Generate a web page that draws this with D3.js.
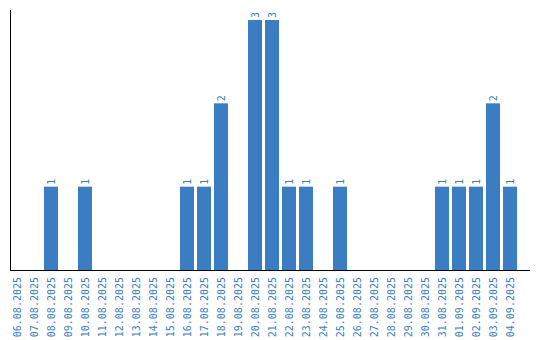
<!DOCTYPE html>
<html>
<head>
<meta charset="utf-8">
<script src="https://cdn.jsdelivr.net/npm/d3@7"></script>
<style>
  body { margin: 0; background: #fff; }
  svg { display: block; }
</style>
</head>
<body>
<svg id="chart" width="540" height="340"></svg>
<script>
"use strict";

const dates = ["06.08.2025","07.08.2025","08.08.2025","09.08.2025","10.08.2025","11.08.2025",
  "12.08.2025","13.08.2025","14.08.2025","15.08.2025","16.08.2025","17.08.2025","18.08.2025",
  "19.08.2025","20.08.2025","21.08.2025","22.08.2025","23.08.2025","24.08.2025","25.08.2025",
  "26.08.2025","27.08.2025","28.08.2025","29.08.2025","30.08.2025","31.08.2025","01.09.2025",
  "02.09.2025","03.09.2025","04.09.2025"];
const counts = [0,0,1,0,1,0,0,0,0,0,1,1,2,0,3,3,1,1,0,1,0,0,0,0,0,1,1,1,2,1];

const blue = "#3a7dc2";
const font = "DejaVu Sans Mono";
const svg = d3.select("#chart");

// band step 17, bar 14
let x = d3.scaleBand().domain(dates).range([8.5, 518.5])
  .paddingInner(3/17).paddingOuter(1.5/17);
let y = d3.scaleLinear().domain([0, 3.12]).range([270, 10]);

svg.append("g").selectAll("rect").data(dates).join("rect")
  .attr("x", d => x(d))
  .attr("width", x.bandwidth())
  .attr("y", (d,i) => y(counts[i]))
  .attr("height", (d,i) => y(0) - y(counts[i]))
  .attr("fill", blue);

// value labels
svg.append("g").selectAll("text").data(dates.filter((d,i) => counts[i] > 0)).join("text")
  .attr("transform", d => `translate(${x(d) + x.bandwidth()/2 + 3.5},${y(counts[dates.indexOf(d)]) - 2}) rotate(-90)`)
  .attr("font-family", font)
  .attr("font-size", 10)
  .attr("fill", blue)
  .text(d => counts[dates.indexOf(d)]);

// x axis
let xAxis = d3.axisBottom(x).tickSize(0).tickPadding(0);
let gx = svg.append("g").attr("transform", "translate(0,270)").call(xAxis);
gx.select(".domain").remove();
gx.selectAll("text")
  .attr("font-family", font)
  .attr("font-size", 10)
  .attr("fill", blue)
  .attr("text-anchor", "end")
  .attr("dy", null)
  .attr("transform", "translate(4,7) rotate(-90)");

svg.append("line").attr("x1", 10.5).attr("x2", 10.5).attr("y1", 10).attr("y2", 270.5)
  .attr("stroke", "#000").attr("stroke-width", 1);
svg.append("line").attr("x1", 10).attr("x2", 530).attr("y1", 270.5).attr("y2", 270.5)
  .attr("stroke", "#000").attr("stroke-width", 1.2);
</script>
</body>
</html>
